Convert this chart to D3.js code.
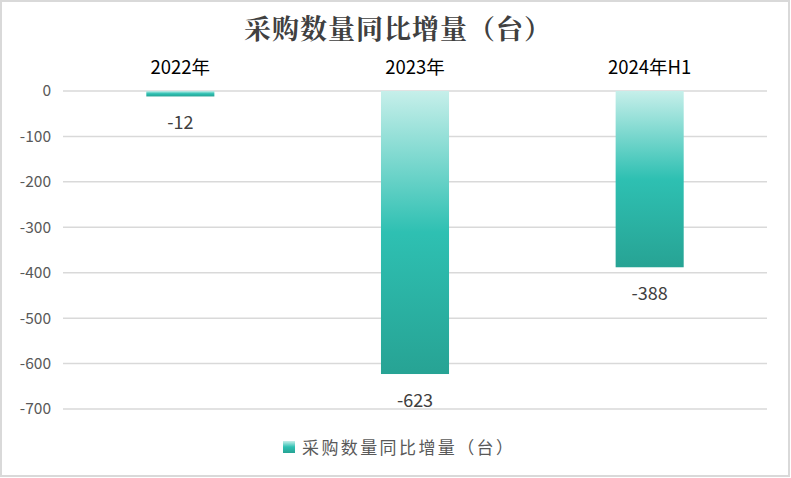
<!DOCTYPE html>
<html><head><meta charset="utf-8">
<script src="https://cdn.jsdelivr.net/npm/d3@7"></script>
<style>body{margin:0;background:#fff;}svg{display:block;}</style>
</head><body>
<svg id="c" width="791" height="478"></svg>
<script>
const categories = ["2022年", "2023年", "2024年H1"];
const values = [-12, -623, -388];
const yTicks = [0, -100, -200, -300, -400, -500, -600, -700];
const title = "采购数量同比增量（台）";
const seriesName = "采购数量同比增量（台）";

const svg = d3.select("#c");
const W = 791, H = 478;
const m = {left: 63, right: 24, top: 91, bottom: 69};
const font = "'Microsoft YaHei','Noto Sans CJK SC','Noto Sans',sans-serif";

svg.append("rect").attr("x",1).attr("y",1).attr("width",W-3).attr("height",H-3)
  .attr("fill","#fff").attr("stroke","#d9d9d9").attr("stroke-width",2);

const defs = svg.append("defs");
const g1 = defs.append("linearGradient").attr("id","bg").attr("x1",0).attr("y1",0).attr("x2",0).attr("y2",1);
g1.append("stop").attr("offset","0%").attr("stop-color","#c6efea");
g1.append("stop").attr("offset","50%").attr("stop-color","#2ec0b2");
g1.append("stop").attr("offset","100%").attr("stop-color","#27a394");

const x = d3.scaleBand().domain(categories).range([m.left, W - m.right]).paddingInner(0.71).paddingOuter(0.355);
const y = d3.scaleLinear().domain([0, -700]).range([m.top, H - m.bottom]);

// grid
svg.append("g").selectAll("line").data(yTicks).join("line")
  .attr("x1", m.left).attr("x2", W - m.right)
  .attr("y1", d => y(d)).attr("y2", d => y(d))
  .attr("stroke", "#d9d9d9").attr("stroke-width", 1.5);

// y axis labels
const ya = svg.append("g").attr("transform", `translate(${m.left - 12},0)`)
  .call(d3.axisLeft(y).tickValues(yTicks).tickSize(0).tickPadding(0));
ya.select(".domain").remove();
ya.selectAll("text").attr("font-family", font).attr("font-size", 15.5).attr("fill", "#595959")
  .text(d => d === 0 ? "0" : "-" + Math.abs(d));

// category labels on top
svg.append("g").selectAll("text").data(categories).join("text")
  .attr("x", d => x(d) + x.bandwidth()/2).attr("y", 74)
  .attr("text-anchor", "middle").attr("font-family", font).attr("font-size", 18.5).attr("fill", "#000")
  .text(d => d);

// bars
const data = categories.map((c,i)=>({c, v: values[i]}));
svg.append("g").selectAll("rect").data(data).join("rect")
  .attr("x", d => x(d.c)).attr("width", x.bandwidth())
  .attr("y", y(0)).attr("height", d => y(d.v) - y(0))
  .attr("fill", "url(#bg)");

// value labels
svg.append("g").selectAll("text").data(data).join("text")
  .attr("x", d => x(d.c) + x.bandwidth()/2).attr("y", d => y(d.v) + 33)
  .attr("text-anchor", "middle").attr("font-family", font).attr("font-size", 18).attr("fill", "#404040")
  .text(d => d.v);

// title
svg.append("text").attr("x", 398).attr("y", 39).attr("text-anchor", "middle")
  .attr("font-family", "'Noto Serif CJK SC','Noto Sans CJK SC',serif").attr("font-size", 27).attr("font-weight", "bold")
  .attr("fill", "#404040").attr("letter-spacing", 1).text(title);

// legend
const lg = svg.append("g");
lg.append("rect").attr("x", 283).attr("y", 441).attr("width", 12).attr("height", 12).attr("fill", "url(#bg)");
lg.append("text").attr("x", 302).attr("y", 454).attr("font-family", font).attr("font-size", 17)
  .attr("letter-spacing", 2.4).attr("fill", "#595959").text(seriesName);
</script>
</body></html>
